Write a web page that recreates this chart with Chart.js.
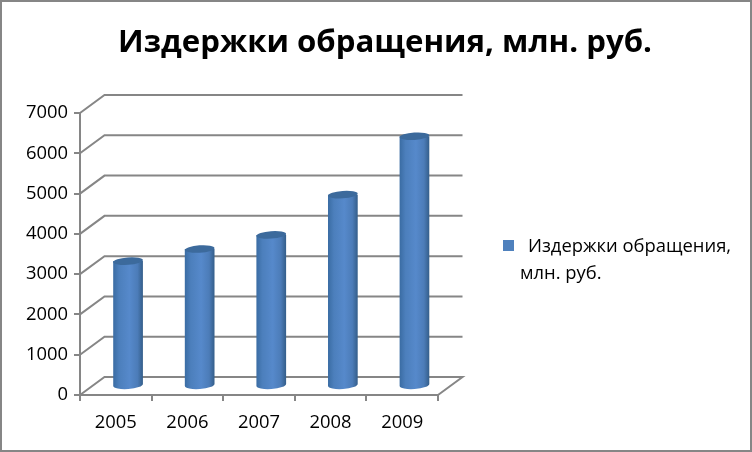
<!DOCTYPE html>
<html>
<head>
<meta charset="utf-8">
<style>
  html, body { margin: 0; padding: 0; background: #fff; }
  canvas { display: block; }
</style>
<script src="https://cdn.jsdelivr.net/npm/chart.js@4/dist/chart.umd.js"></script>
</head>
<body>
<canvas id="costChart" width="752" height="452"></canvas>
<script>
const years = ['2005', '2006', '2007', '2008', '2009'];
const costs = [3100, 3400, 3750, 4750, 6200];
const seriesName = 'Издержки обращения, млн. руб.';
const legendLines = ['Издержки обращения,', 'млн. руб.'];
const yTicks = [0, 1000, 2000, 3000, 4000, 5000, 6000, 7000];

const axisColor = '#868686';
const textFont = "'Open Sans', sans-serif";
const depthX = 24.5, depthY = 18;

// Bars are drawn as cylinders, shifted to the middle of the 3D floor
Chart.BarElement.prototype.draw = function(ctx) {
    const dx = depthX / 2, dy = depthY / 2;
    const cx = this.x + dx, top = this.y - dy, base = this.base - dy;
    const r = this.width / 2, tilt = -0.07;
    const side = ctx.createLinearGradient(cx - r, 0, cx + r, 0);
    side.addColorStop(0, '#3a6ca3');
    side.addColorStop(0.2, '#4c7fbc');
    side.addColorStop(0.55, '#5689cb');
    side.addColorStop(0.82, '#4c7cb8');
    side.addColorStop(1, '#345e8a');
    ctx.save();
    ctx.fillStyle = side;
    ctx.beginPath();
    ctx.moveTo(cx - r, top);
    ctx.lineTo(cx + r, top);
    ctx.lineTo(cx + r, base);
    ctx.ellipse(cx, base, r, 4, tilt, 0, Math.PI);
    ctx.lineTo(cx - r, top);
    ctx.fill();
    ctx.fillStyle = '#3c6a9c';
    ctx.beginPath();
    ctx.ellipse(cx, top, r, 3.7, tilt, 0, Math.PI * 2);
    ctx.fill();
    ctx.restore();
};

const wallsPlugin = {
    id: 'walls',
    beforeDatasetsDraw(chart) {
        const { ctx, scales: { x, y } } = chart;
        ctx.save();
        ctx.strokeStyle = axisColor;
        ctx.lineWidth = 2;
        yTicks.forEach(v => {
            const py = y.getPixelForValue(v);
            ctx.beginPath();
            ctx.moveTo(x.left, py);
            ctx.lineTo(x.left + depthX, py - depthY);
            ctx.lineTo(x.right + depthX, py - depthY);
            if (v === 0) ctx.lineTo(x.right, py);
            ctx.stroke();
        });
        ctx.restore();
    }
};

// title and legend sit outside the plot box, so they are placed by hand
const textPlugin = {
    id: 'titleAndLegend',
    afterDraw(chart) {
        const { ctx } = chart;
        ctx.save();
        ctx.fillStyle = '#000';
        ctx.textBaseline = 'middle';
        ctx.textAlign = 'center';
        ctx.font = 'bold 31.2px ' + textFont;
        ctx.fillText(seriesName, 385, 43);
        ctx.textAlign = 'left';
        ctx.font = '18.4px ' + textFont;
        ctx.fillText(legendLines[0], 528, 247);
        ctx.fillText(legendLines[1], 520, 274);
        ctx.fillStyle = '#4f81bd';
        ctx.fillRect(503, 240, 11, 11);
        ctx.restore();
    }
};

const framePlugin = {
    id: 'frame',
    afterDraw(chart) {
        const { ctx } = chart;
        ctx.save();
        ctx.strokeStyle = axisColor;
        ctx.lineWidth = 2;
        ctx.strokeRect(1, 1, 750, 450);
        ctx.restore();
    }
};

new Chart(document.getElementById('costChart'), {
    type: 'bar',
    data: {
        labels: years,
        datasets: [{
            label: seriesName,
            data: costs,
            backgroundColor: '#4f81bd',
            barPercentage: 0.83,
            categoryPercentage: 0.5
        }]
    },
    options: {
        responsive: false,
        animation: false,
        devicePixelRatio: 1,
        layout: { padding: { top: 113, left: 0, right: 314, bottom: 0 } },
        plugins: {
            legend: { display: false },
            title: { display: false },
            tooltip: { enabled: false }
        },
        scales: {
            y: {
                min: 0,
                max: 7000,
                ticks: {
                    stepSize: 1000,
                    color: '#000',
                    padding: 6,
                    callback: v => String(v),
                    font: { family: textFont, size: 18.4 }
                },
                grid: { drawOnChartArea: false, color: axisColor, lineWidth: 2, tickLength: 6 },
                border: { color: axisColor, width: 2 },
                afterFit(scale) { scale.width = 80; }
            },
            x: {
                ticks: {
                    color: '#000',
                    padding: 11,
                    maxRotation: 0,
                    font: { family: textFont, size: 18.4 }
                },
                grid: { drawOnChartArea: false, color: axisColor, lineWidth: 2, tickLength: 6 },
                border: { color: axisColor, width: 2 },
                afterFit(scale) { scale.height = 57; }
            }
        }
    },
    plugins: [wallsPlugin, textPlugin, framePlugin]
});
</script>
</body>
</html>
